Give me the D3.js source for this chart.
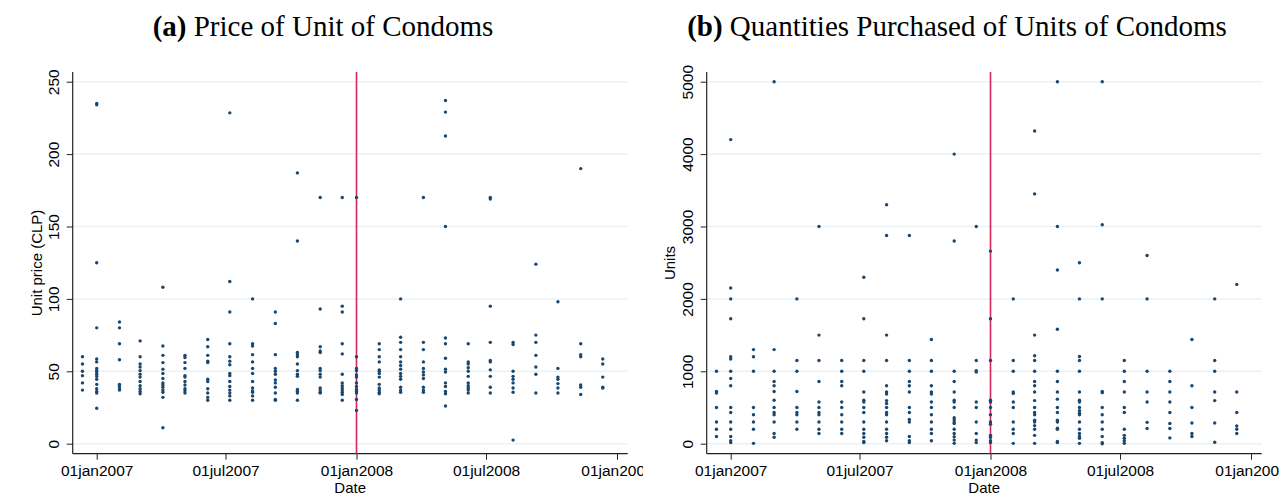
<!DOCTYPE html>
<html>
<head>
<meta charset="utf-8">
<script src="https://cdn.jsdelivr.net/npm/d3@7"></script>
<style>
  html, body { margin: 0; padding: 0; background: #fff; }
  svg { display: block; }
</style>
</head>
<body>
<svg width="1279" height="495"></svg>
<script>
// observation dates (one column of points per date)
const dates = ["2006-12-12", "2007-01-01", "2007-02-02", "2007-03-03", "2007-04-04",
	"2007-05-05", "2007-06-06", "2007-07-07", "2007-08-08", "2007-09-09", "2007-10-10",
	"2007-11-11", "2007-12-12", "2008-01-01", "2008-02-02", "2008-03-03", "2008-04-04",
	"2008-05-05", "2008-06-06", "2008-07-07", "2008-08-08", "2008-09-09", "2008-10-10",
	"2008-11-11", "2008-12-12"];

// unit price (CLP), one list per date
const prices = [
	[60, 55, 50, 47, 42, 37],
	[235, 234, 125, 80, 58.5, 56.5, 52, 50.5, 49.5, 48, 46.5, 44.5, 41, 38, 36, 35, 24.5],
	[84, 80, 69, 58, 41, 39.5, 38, 37],
	[71, 60, 55, 53, 50.5, 48, 46, 43, 40, 38, 36, 34.5],
	[108, 67.5, 61, 56, 51.5, 48.5, 45, 42, 40.5, 39, 37, 35.5, 32, 11],
	[61, 59.5, 56, 52, 47, 46, 43, 40.5, 38, 36.5, 35],
	[72, 67, 61, 57, 56, 44.5, 43, 38, 35, 32, 30],
	[228.5, 112, 91, 69, 60, 57, 54.5, 48.5, 47, 43, 39.5, 37, 35, 33, 30],
	[100, 69, 67.5, 61.5, 56.5, 52, 48.5, 43, 38.5, 36.5, 35.5, 33, 30],
	[91, 83, 61.5, 52, 50, 48, 44, 42, 39, 35, 30.5, 30],
	[187, 140, 63, 61.5, 60, 55, 50.5, 48, 46.5, 37.5, 36, 35, 30],
	[170, 93, 67, 64, 63, 52, 50.5, 48, 46, 38.5, 37, 35.5, 35],
	[170, 95, 91, 69, 62, 48, 42, 40, 38.5, 37, 35.5, 34, 30],
	[170, 60, 52, 50.5, 47.5, 46, 42, 39.5, 37.5, 36, 35, 30.5, 23],
	[69, 65, 60, 56.5, 51, 50, 48.5, 46, 41, 38.5, 37, 35.5, 34.5],
	[100, 73.5, 70, 65, 60, 56.5, 54, 51.5, 48.5, 46.5, 44.5, 39, 37, 35.5],
	[170, 70, 65, 56.5, 52, 49.5, 47.5, 45, 39, 37, 35.5],
	[237, 229, 212.5, 150, 73, 69, 59, 51.5, 49.5, 42, 39.5, 36, 34.5, 26],
	[69, 56.5, 55, 52.5, 50, 46.5, 42, 40, 38.5, 37, 35],
	[170, 169, 95, 70, 57.5, 56.5, 51, 46.5, 39, 35],
	[70, 68.5, 50, 46.5, 44.5, 42, 38.5, 35.5, 2.5],
	[124, 75, 70, 61, 53, 48, 35],
	[98, 52, 46, 44.5, 41.5, 38.5, 35],
	[190, 69, 61.5, 60, 40.5, 39, 34],
	[58.5, 55, 46, 39, 38.5]
];

// units purchased, one list per date
const units = [
	[1000, 720, 700, 500, 300, 200, 100],
	[4200, 2150, 2000, 1725, 1200, 1170, 1000, 900, 800, 500, 430, 300, 200, 100, 40, 15],
	[1300, 1200, 1000, 500, 400, 300, 200, 5],
	[5000, 1300, 1000, 860, 800, 720, 600, 500, 430, 400, 300, 140, 90],
	[2000, 1150, 1000, 720, 500, 430, 400, 300, 200],
	[3000, 1500, 1150, 860, 575, 500, 430, 400, 300, 200, 140],
	[1150, 1000, 860, 800, 575, 500, 400, 300, 200, 140],
	[2300, 1725, 1150, 1000, 715, 600, 575, 500, 430, 300, 200, 140, 90, 30, 15],
	[3300, 2875, 1500, 1150, 800, 715, 685, 595, 555, 500, 430, 400, 300, 200, 140, 90, 40],
	[2875, 1150, 1000, 860, 800, 715, 500, 430, 335, 300, 100, 40, 15],
	[1440, 1150, 1000, 800, 715, 685, 575, 500, 400, 300, 200, 140, 40],
	[4000, 2800, 1000, 860, 715, 600, 575, 500, 360, 330, 300, 280, 200, 140, 95, 50, 5],
	[3000, 1150, 1010, 990, 575, 500, 300, 140, 50, 15],
	[2660, 1725, 1150, 600, 575, 500, 400, 300, 270, 115, 90, 40, 15],
	[2000, 1150, 1000, 715, 695, 575, 500, 300, 200, 140, 5],
	[4320, 3450, 1500, 1215, 1150, 1000, 860, 800, 715, 595, 500, 430, 400, 325, 300, 250, 200, 115, 5],
	[5000, 3000, 2400, 1580, 1000, 860, 715, 615, 500, 430, 325, 300, 215, 200, 30, 15],
	[2500, 2000, 1205, 1150, 1000, 715, 600, 575, 500, 455, 420, 400, 300, 200, 140, 100, 75, 5],
	[5000, 3025, 2000, 720, 705, 500, 400, 300, 200, 100, 15, 0],
	[1150, 1000, 860, 715, 500, 430, 200, 115, 75, 40, 5],
	[2600, 2000, 1000, 715, 575, 295, 210],
	[1000, 860, 715, 575, 430, 280, 210, 80],
	[1440, 800, 500, 285, 140, 100],
	[2000, 1150, 1000, 715, 595, 285, 20],
	[2200, 715, 430, 245, 200, 140]
];

const dateTicks = ["2007-01-01", "2007-07-01", "2008-01-01", "2008-07-01", "2009-01-01"];
const priceTicks = [0, 50, 100, 150, 200, 250];
const unitTicks = [0, 1000, 2000, 3000, 4000, 5000];
const breakDate = "2008-01-01";

const parse = d3.timeParse("%Y-%m-%d");
const fmt = d => d3.timeFormat("%d%b%Y")(d).toLowerCase();

const svg = d3.select("svg");

const sans = "Liberation Sans, Arial, Helvetica, sans-serif";
const serif = "Liberation Serif, Times New Roman, serif";

function panel(opts) {
	const ox = opts.ox;
	const g = svg.append("g").attr("transform", `translate(${ox},0)`);
	if (opts.clipW) {
		svg.append("clipPath").attr("id", "clip" + ox)
			.append("rect").attr("x", 0).attr("y", 0).attr("width", opts.clipW).attr("height", 495);
		g.attr("clip-path", `url(#clip${ox})`);
	}

	const left = 72.7, right = 627.7, top = 72, bottom = 453.7;

	const x = d3.scaleTime()
		.domain([parse(dateTicks[0]), parse(dateTicks[dateTicks.length - 1])])
		.range([96.7, 617]);
	const y = d3.scaleLinear()
		.domain([0, d3.max(opts.yTicks)])
		.range([443.7, 81.7]);

	// grid
	g.append("g").selectAll("line")
		.data(opts.yTicks)
		.join("line")
		.attr("x1", left).attr("x2", right)
		.attr("y1", d => y(d)).attr("y2", d => y(d))
		.attr("stroke", "#eaf2f3")
		.attr("stroke-width", 1.5);

	// axes
	const xa = g.append("g")
		.attr("transform", `translate(0,${bottom})`)
		.call(d3.axisBottom(x).tickValues(dateTicks.map(parse)).tickFormat(fmt).tickSize(6).tickPadding(5));
	xa.select(".domain").remove();
	xa.selectAll("line").attr("stroke", "#222").attr("stroke-width", 1);
	xa.selectAll("text").attr("font-family", sans).attr("font-size", 15.5).attr("fill", "#000");

	const ya = g.append("g")
		.attr("transform", `translate(${left},0)`)
		.call(d3.axisLeft(y).tickValues(opts.yTicks).tickFormat(d3.format("d")).tickSize(6).tickPadding(4));
	ya.select(".domain").remove();
	ya.selectAll("line").attr("stroke", "#222").attr("stroke-width", 1);
	ya.selectAll("text")
		.attr("font-family", sans).attr("font-size", 15.5).attr("fill", "#000")
		.attr("text-anchor", "middle")
		.attr("x", null).attr("dy", null)
		.attr("transform", "translate(-14,0) rotate(-90)");

	g.append("line")
		.attr("x1", left).attr("x2", right).attr("y1", bottom).attr("y2", bottom)
		.attr("stroke", "#222").attr("stroke-width", 1.2);
	g.append("line")
		.attr("x1", left).attr("x2", left).attr("y1", top).attr("y2", bottom)
		.attr("stroke", "#222").attr("stroke-width", 1.2);

	// break line
	g.append("line")
		.attr("x1", x(parse(breakDate))).attr("x2", x(parse(breakDate)))
		.attr("y1", top).attr("y2", bottom)
		.attr("stroke", "#d7265b").attr("stroke-width", 1.6);

	// points
	const pts = [];
	dates.forEach((d, i) => opts.values[i].forEach(v => pts.push({date: parse(d), v})));
	g.append("g").selectAll("circle")
		.data(pts)
		.join("circle")
		.attr("cx", d => x(d.date))
		.attr("cy", d => y(d.v))
		.attr("r", 1.7)
		.attr("fill", "#1a476f");

	// labels
	g.append("text")
		.attr("x", (left + right) / 2).attr("y", 493)
		.attr("text-anchor", "middle")
		.attr("font-family", sans).attr("font-size", 15)
		.text("Date");
	g.append("text")
		.attr("transform", `translate(${opts.yTitleX},263) rotate(-90)`)
		.attr("text-anchor", "middle")
		.attr("font-family", sans).attr("font-size", 15)
		.text(opts.yTitle);

	const t = g.append("text")
		.attr("x", opts.titleX).attr("y", 36)
		.attr("text-anchor", "middle")
		.attr("font-family", serif).attr("font-size", 29);
	t.append("tspan").attr("font-weight", "bold").text(opts.tag);
	t.append("tspan").text(" " + opts.title);
}

panel({ox: 0, clipW: 643, values: prices, yTicks: priceTicks, yTitle: "Unit price (CLP)",
	yTitleX: 42, tag: "(a)", title: "Price of Unit of Condoms", titleX: 323});
panel({ox: 634, values: units, yTicks: unitTicks, yTitle: "Units",
	yTitleX: 41, tag: "(b)", title: "Quantities Purchased of Units of Condoms", titleX: 323});
</script>
</body>
</html>
